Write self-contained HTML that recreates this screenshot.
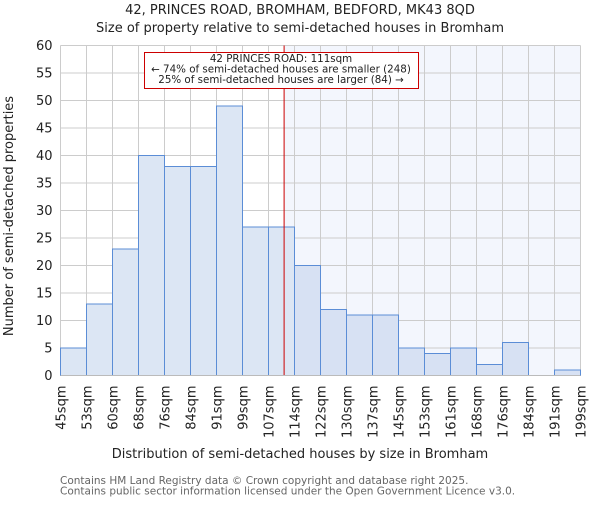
<!DOCTYPE html>
<html><head><meta charset="utf-8"><style>
body{margin:0;background:#fff}
svg text{font-family:"DejaVu Sans","Liberation Sans",sans-serif;fill:#222}
</style></head><body>
<svg id="c" width="600" height="500" xmlns="http://www.w3.org/2000/svg"></svg>
<script>
const binLabels=["45sqm","53sqm","60sqm","68sqm","76sqm","84sqm","91sqm","99sqm","107sqm","114sqm","122sqm","130sqm","137sqm","145sqm","153sqm","161sqm","168sqm","176sqm","184sqm","191sqm","199sqm"];
const counts=[5,13,23,40,38,38,49,27,27,20,12,11,11,5,4,5,2,6,0,1];
const yTicks=[0,5,10,15,20,25,30,35,40,45,50,55,60];
const markerBin=8.6;
const L=60.5,R=580.5,T=45.5,B=375.5;
const n=counts.length,bw=(R-L)/n;
const xs=i=>L+i*bw, ys=v=>B-(v/60)*(B-T);
const S="http://www.w3.org/2000/svg",svg=document.getElementById('c');
function mk(t,a,p){const e=document.createElementNS(S,t);for(const k in a)e.setAttribute(k,a[k]);(p||svg).appendChild(e);return e;}
const mx=xs(markerBin);
let sh=mk('rect',{x:mx,y:T,width:R-mx,height:B-T,fill:'#f3f6fd'});


yTicks.forEach(v=>{let g=mk('line',{x1:L,x2:R,y1:ys(v),y2:ys(v),stroke:'#ccc','stroke-width':1});


let t=mk('text',{x:L-8,y:ys(v)+4.5,'text-anchor':'end','font-size':13});t.textContent=v;

});
binLabels.forEach((l,i)=>{let g=mk('line',{x1:xs(i),x2:xs(i),y1:T,y2:B,stroke:'#ccc','stroke-width':1});


let t=mk('text',{transform:`translate(${xs(i)+5},${B+10}) rotate(-90)`,'text-anchor':'end','font-size':13});t.textContent=l;

});
counts.forEach((v,i)=>{if(v<=0)return;const right=i+0.5>markerBin;
let r=mk('rect',{x:xs(i),y:ys(v),width:bw,height:B-ys(v),fill:right?'#d7e1f3':'#dce6f4',stroke:'#5b8dd6','stroke-width':1});

});
let ml=mk('line',{x1:mx,x2:mx,y1:T,y2:B,stroke:'#c00','stroke-width':1});


let ax=mk('line',{x1:L,x2:R,y1:B,y2:B,stroke:'#bbb','stroke-width':1});


let bx=mk('rect',{x:144.5,y:52.5,width:274,height:36,fill:'#fff',stroke:'#c00','stroke-width':1});


["42 PRINCES ROAD: 111sqm","← 74% of semi-detached houses are smaller (248)","25% of semi-detached houses are larger (84) →"].forEach((s,i)=>{let t=mk('text',{x:281,y:62+i*10.5,'text-anchor':'middle','font-size':10.3});t.textContent=s;

});
[[300,14,'42, PRINCES ROAD, BROMHAM, BEDFORD, MK43 8QD','chart-title'],[300,32,'Size of property relative to semi-detached houses in Bromham','chart-subtitle'],[300,458,'Distribution of semi-detached houses by size in Bromham','x-axis-title']].forEach(a=>{let t=mk('text',{x:a[0],y:a[1],'text-anchor':'middle','font-size':13});t.textContent=a[2];

});
let yt=mk('text',{transform:'translate(13,216) rotate(-90)','text-anchor':'middle','font-size':13});yt.textContent='Number of semi-detached properties';


["Contains HM Land Registry data © Crown copyright and database right 2025.","Contains public sector information licensed under the Open Government Licence v3.0."].forEach((s,i)=>{let t=mk('text',{x:60,y:484+i*10.5,'font-size':10.5,style:'fill:#666'});t.textContent=s;

});
</script>
</body></html>
